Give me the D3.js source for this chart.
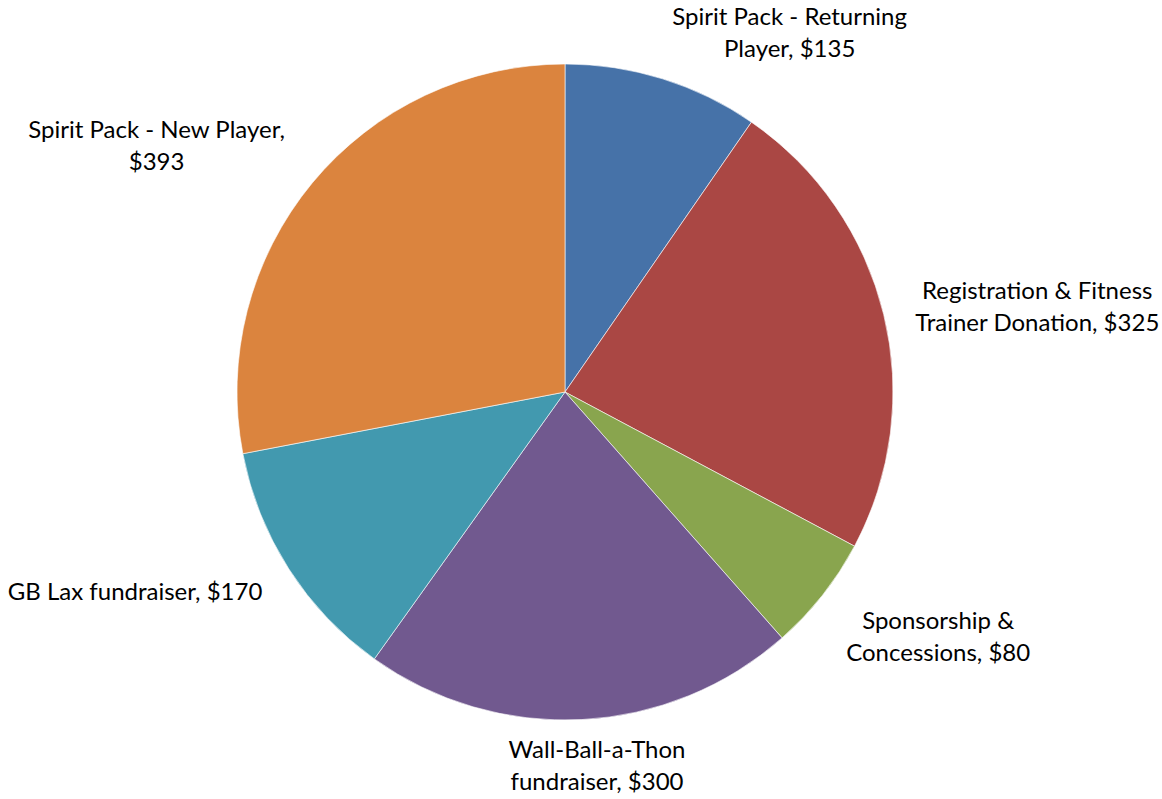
<!DOCTYPE html>
<html><head><meta charset="utf-8">
<script src="https://cdn.jsdelivr.net/npm/d3@7"></script>
<style>html,body{margin:0;padding:0;background:#fff;} svg{display:block;}</style>
</head><body>
<svg id="chart" width="1162" height="799"></svg>
<script>
const categories = ["Spirit Pack - Returning Player", "Registration & Fitness Trainer Donation", "Sponsorship & Concessions", "Wall-Ball-a-Thon fundraiser", "GB Lax fundraiser", "Spirit Pack - New Player"];
const values = [135, 325, 80, 300, 170, 393];
const labelLines = [
  ["Spirit Pack - Returning", "Player, $135"],
  ["Registration & Fitness", "Trainer Donation, $325"],
  ["Sponsorship &", "Concessions, $80"],
  ["Wall-Ball-a-Thon", "fundraiser, $300"],
  ["GB Lax fundraiser, $170"],
  ["Spirit Pack - New Player,", "$393"]
];
const colors = ["#4672A8", "#AA4744", "#89A54E", "#71598F", "#4299AF", "#DB843E"];

// layout (not data)
const W = 1162, H = 799, cx = 565, cy = 392, R = 328;
const labelRadius = [424, 480, 446, 375, 474, 477];
const labelAngleDeg = [32, 79.7, 123.2, 175.1, 245.1, 301.1];

const svg = d3.select("#chart");
const g = svg.append("g").attr("transform", `translate(${cx},${cy})`);
const pie = d3.pie().sort(null).value(d => d)(values);
const arc = d3.arc().innerRadius(0).outerRadius(R);
g.selectAll("path.slice").data(pie).join("path")
  .attr("class", "slice")
  .attr("d", arc)
  .attr("fill", (d, i) => colors[i])
  .attr("stroke", "#fff").attr("stroke-width", 0.6);

const lh = 32;
pie.forEach((d, i) => {
  const a = labelAngleDeg[i] * Math.PI / 180;
  const x = Math.sin(a) * labelRadius[i], y = -Math.cos(a) * labelRadius[i];
  const lines = labelLines[i];
  const t = g.append("text").attr("text-anchor", "middle")
    .attr("font-family", "Lato, 'Open Sans', sans-serif").attr("font-size", 24).attr("fill", "#000");
  lines.forEach((ln, k) => {
    t.append("tspan").attr("x", x).attr("y", y + (k - (lines.length - 1) / 2) * lh).attr("dy", "0.35em").text(ln);
  });
});
</script>
</body></html>
